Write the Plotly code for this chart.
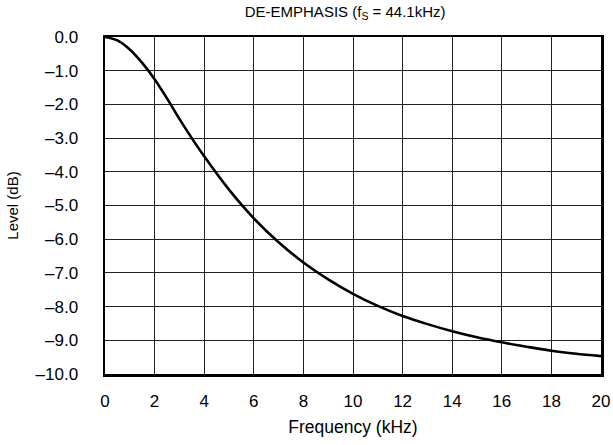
import plotly.graph_objects as go

freq_khz = [0, 0.5, 1, 1.5, 2, 2.5, 3, 3.5, 4, 5, 6, 7, 8, 9, 10, 11, 12, 13, 14, 15, 16, 17, 18, 19, 20]
level_db = [0.0, -0.10, -0.37, -0.77, -1.25, -1.82, -2.43, -3.0, -3.54, -4.53, -5.38, -6.09, -6.69,
            -7.19, -7.62, -7.98, -8.28, -8.52, -8.73, -8.91, -9.06, -9.19, -9.31, -9.40, -9.47]

x_ticks = list(range(0, 21, 2))
y_ticks = [0, -1, -2, -3, -4, -5, -6, -7, -8, -9, -10]
y_ticktext = ["0.0", "–1.0", "–2.0", "–3.0", "–4.0", "–5.0", "–6.0", "–7.0", "–8.0", "–9.0", "–10.0"]
title_text = "DE-EMPHASIS (f<sub>S</sub> = 44.1kHz)"

FAM = "Liberation Sans, Arial, sans-serif"

fig = go.Figure()
fig.add_trace(go.Scatter(x=freq_khz, y=level_db, mode="lines",
                         line=dict(color="black", width=2.6, shape="spline", smoothing=0.8),
                         showlegend=False, hoverinfo="skip"))

fig.update_layout(
    width=613, height=445,
    margin=dict(l=105, r=12, t=37, b=71, autoexpand=False),
    paper_bgcolor="white", plot_bgcolor="white",
    font=dict(family=FAM, size=17, color="black"),
    title=dict(text=title_text, x=0.563, xanchor="center", y=0.985, yanchor="top",
               font=dict(family=FAM, size=15, color="black"), automargin=False),
)
fig.update_xaxes(range=[0, 20], tickvals=x_ticks, ticktext=[str(v) for v in x_ticks],
                 showgrid=True, gridcolor="#222", gridwidth=1, zeroline=False,
                 showline=True, linecolor="black", linewidth=2.5, mirror=True,
                 ticks="", ticklabelstandoff=10, tickfont=dict(size=17), automargin=False,
                 title=dict(text="Frequency (kHz)", standoff=11, font=dict(size=17.5)))
fig.update_yaxes(range=[-10, 0], tickvals=y_ticks, ticktext=y_ticktext,
                 showgrid=True, gridcolor="#222", gridwidth=1, zeroline=False,
                 showline=True, linecolor="black", linewidth=2.5, mirror=True,
                 ticks="", ticklabelstandoff=21, tickfont=dict(size=17), automargin=False,
                 title=dict(text="Level (dB)", standoff=14, font=dict(size=15)))

fig.write_html("out.html", config={"displayModeBar": False, "staticPlot": True},
               post_script="document.body.style.margin='0';document.body.style.overflow='hidden';")
